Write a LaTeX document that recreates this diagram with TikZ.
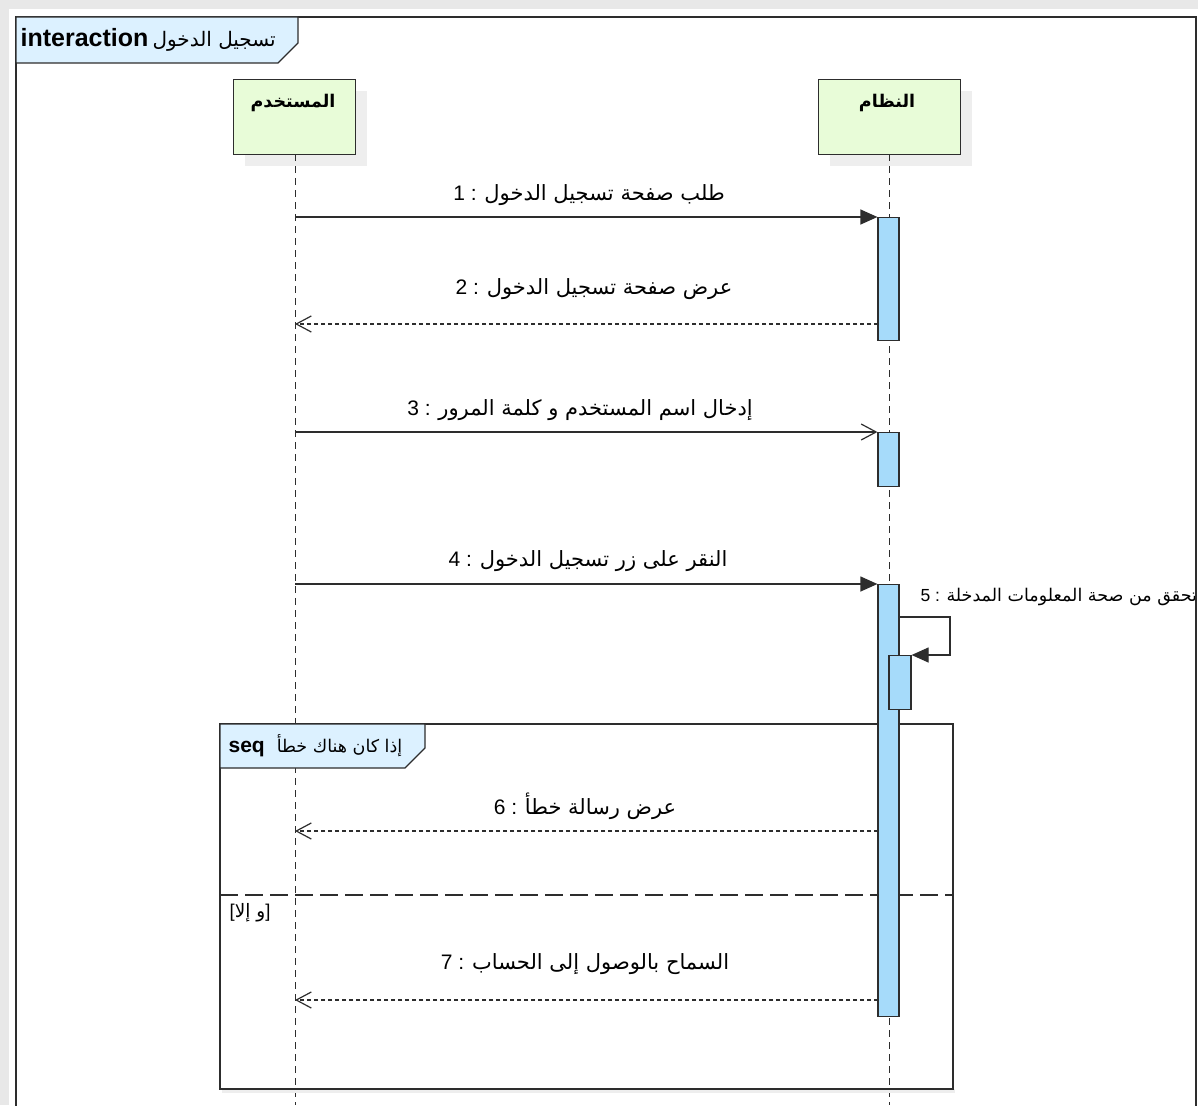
\documentclass[tikz,border=0pt]{standalone}
\usepackage{fontspec}
\setmainfont{Liberation Sans}
\newfontfamily\ar[Script=Arabic]{DejaVu Sans}
\TeXXeTstate=1
\usetikzlibrary{arrows.meta}
\definecolor{actblue}{RGB}{166,219,250}
\definecolor{headg}{RGB}{232,252,216}
\definecolor{tagblue}{RGB}{220,241,255}
\definecolor{shad}{RGB}{238,238,238}
\definecolor{lnc}{RGB}{45,45,45}
\begin{document}
\begin{tikzpicture}[x=1pt,y=-1pt,line width=1.2pt,
  frm/.style={draw=lnc,line width=1.3pt},
  headbox/.style={draw=lnc,fill=headg,line width=1.3pt,minimum width=122pt,minimum height=75pt,inner sep=0pt,anchor=north west},
  headtxt/.style={font=\fontsize{17.5}{22}\selectfont\ar\bfseries,inner sep=0pt},
  act/.style={draw=lnc,fill=actblue,line width=1.2pt,minimum width=21pt,inner sep=0pt,anchor=north},
  life/.style={draw=lnc,line width=1pt,dash pattern=on 7pt off 5pt},
  syncmsg/.style={draw=lnc,-{Triangle[length=17pt,width=15pt]}},
  asyncmsg/.style={draw=lnc,-{Straight Barb[length=15pt,width=16pt]}},
  retmsg/.style={draw=lnc,dash pattern=on 4pt off 3pt,-{Straight Barb[length=15pt,width=16pt]}},
  msglbl/.style={font=\fontsize{21}{25}\selectfont,inner sep=0pt},
  tag/.style={draw=lnc,fill=tagblue,line width=1.3pt}
]
\useasboundingbox (0,0) rectangle (1198,1105);
% page shadow
\fill[black!9] (0,0) rectangle (1198,1105);
\fill[white] (9,9) rectangle (1198,1105);

% head shadows
\fill[shad] (245,91) rectangle (367,166);
\fill[shad] (830,91) rectangle (972,166);

% heads
\node[headbox] (uH) at (233,79) {};
\node[headbox,minimum width=142pt] (sH) at (818,79) {};
\node[headtxt] (uT) at (293,103) {\beginR المستخدم\endR};
\node[headtxt] (sT) at (887,103) {\beginR النظام\endR};

% lifelines
\coordinate (uEnd) at (295,1105);
\coordinate (sEnd) at (889,1105);
\draw[life] (295,154) -- (uEnd);
\draw[life] (889,154) -- (sEnd);

% combined fragment
\fill[shad] (222,1089) rectangle (955,1093);
\draw[frm] (220,724) rectangle (953,1089);
\draw[tag] (220,724) -- (425,724) -- (425,748) -- (405,768) -- (220,768) -- cycle;
\node[anchor=west,inner sep=0pt,font=\fontsize{21}{25}\selectfont] (seqT) at (228,746)
  {\textbf{seq}\hspace{12pt}{\ar\fontsize{17.5}{20}\selectfont\beginR إذا كان هناك خطأ\endR}};
\draw[draw=lnc,line width=1.3pt,dash pattern=on 18pt off 7pt] (220,895) -- (953,895);
\node[inner sep=0pt,font=\fontsize{18.5}{22}\selectfont] (guard) at (250,913) {[{\ar\beginR و إلا\endR}]};

% activations
\node[act,minimum height=123pt] (a1) at (888.5,217) {};
\node[act,minimum height=54pt] (a2) at (888.5,432) {};
\node[act,minimum height=432pt] (a3) at (888.5,584) {};
\node[act,minimum height=54pt,minimum width=22pt] (a4) at (900,655) {};

% message end points on the user lifeline
\coordinate (u1) at (295,217);
\coordinate (u2) at (295,324);
\coordinate (u3) at (295,432);
\coordinate (u4) at (295,584);
\coordinate (u6) at (295,831);
\coordinate (u7) at (295,1000);
\coordinate (s2) at (878,324);
\coordinate (s6) at (878,831);
\coordinate (s7) at (878,1000);
\coordinate (r1) at (950,617);
\coordinate (r2) at (950,655);

% messages
\draw[syncmsg] (u1) -- (a1.north west);
\draw[retmsg] (s2) -- (u2);
\draw[asyncmsg] (u3) -- (a2.north west);
\draw[syncmsg] (u4) -- (a3.north west);
\draw[syncmsg] (a3.east |- r1) -- (r1) -- (r2) -- (a4.north east);
\draw[retmsg] (s6) -- (u6);
\draw[retmsg] (s7) -- (u7);

% labels
\node[msglbl] (l1) at (589,195) {1 : {\ar\beginR طلب صفحة تسجيل الدخول\endR}};
\node[msglbl] (l2) at (594,289) {2 : {\ar\beginR عرض صفحة تسجيل الدخول\endR}};
\node[msglbl] (l3) at (580,410) {3 : {\ar\beginR إدخال اسم المستخدم و كلمة المرور\endR}};
\node[msglbl] (l4) at (588,561) {4 : {\ar\beginR النقر على زر تسجيل الدخول\endR}};
\node[msglbl,font=\fontsize{17.5}{20}\selectfont,anchor=west] (l5) at (920,597) {5 : {\ar\beginR تحقق من صحة المعلومات المدخلة\endR}};
\node[msglbl] (l6) at (585,806) {6 : {\ar\beginR عرض رسالة خطأ\endR}};
\node[msglbl] (l7) at (585,964) {7 : {\ar\beginR السماح بالوصول إلى الحساب\endR}};

% outer frame (drawn last, over the self-message label)
\draw[frm] (16,1110) -- (16,17) -- (1196,17) -- (1196,1110);
\draw[tag] (16,17) -- (298,17) -- (298,43) -- (278,63) -- (16,63) -- cycle;
\node[anchor=west,inner sep=0pt,font=\fontsize{25}{29}\selectfont] (ftitle) at (20,40)
  {\textbf{interaction}\,{\ar\fontsize{20}{24}\selectfont\beginR تسجيل الدخول\endR}};
\end{tikzpicture}
\end{document}
